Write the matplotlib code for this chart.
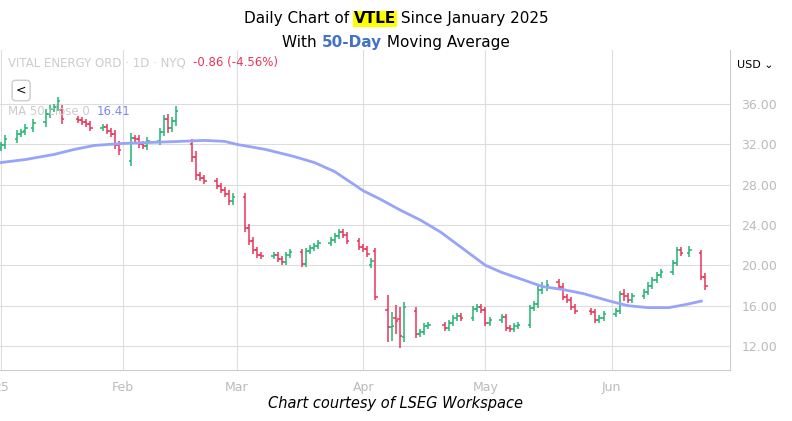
import matplotlib
matplotlib.use("Agg")
import matplotlib.pyplot as plt
import matplotlib.dates as mdates
import pandas as pd

# ---- data ----
closes = [31.9,32.5,33.0,33.2,33.6,34.1,35.0,35.5,35.7,36.3,
          34.5,34.4,34.2,34.0,33.6,33.7,33.3,33.0,31.9,31.4,
          32.6,32.5,32.0,31.8,32.3,33.2,34.5,33.6,34.3,35.3,
          30.8,29.0,28.7,28.4,27.9,27.5,27.1,26.4,26.8,
          23.7,22.4,21.5,21.0,20.9,21.0,20.6,20.3,21.0,21.3,20.1,21.4,21.7,21.9,22.2,22.5,22.9,23.3,23.0,22.4,21.8,
          21.6,21.1,20.4,16.9,13.9,14.0,14.5,13.0,15.9,13.2,13.4,14.0,14.1,13.8,14.3,14.8,15.0,14.8,15.7,15.9,15.6,
          14.3,14.6,14.9,13.8,13.7,14.0,14.1,15.8,16.2,17.6,17.9,18.1,17.9,16.9,16.6,15.9,15.5,15.4,14.6,14.8,15.2,
          15.5,17.2,17.0,16.6,17.0,17.4,18.0,18.5,19.0,19.3,20.2,21.5,21.2,21.5,18.8,18.0]
opens = [31.6,31.9,32.5,33.0,33.3,33.6,34.2,35.0,35.5,35.7,
         35.4,34.5,34.4,34.2,34.0,33.6,33.7,33.3,33.0,31.9,
         30.4,32.6,32.5,32.0,31.8,32.3,33.2,34.5,33.6,34.3,
         32.0,30.8,29.0,28.7,28.4,27.9,27.5,27.1,26.4,
         26.8,23.7,22.4,21.5,21.0,20.9,21.0,20.6,20.3,21.0,21.3,20.1,21.4,21.7,21.9,22.2,22.5,22.9,23.3,23.0,22.4,
         21.8,21.6,20.0,21.4,15.6,13.9,14.8,14.7,12.9,15.5,13.2,13.4,14.0,14.1,13.8,14.3,14.8,15.0,14.8,15.7,15.9,
         15.6,14.3,14.6,14.9,13.8,13.7,14.0,14.1,15.8,16.2,17.6,17.9,18.3,17.9,16.9,16.6,15.9,15.5,15.4,14.6,14.8,
         15.2,15.5,17.2,17.0,16.6,17.0,17.4,18.0,18.5,19.0,19.3,20.2,21.5,21.2,21.2,18.8]
spread = [0.3,0.4,0.4,0.3,0.4,0.4,0.5,0.4,0.3,0.4,
          0.5,0.3,0.3,0.3,0.3,0.3,0.3,0.3,0.4,0.4,
          0.5,0.3,0.4,0.3,0.4,0.4,0.4,0.5,0.4,0.5,
          0.5,0.5,0.3,0.3,0.3,0.3,0.3,0.4,0.4,
          0.4,0.4,0.4,0.3,0.3,0.3,0.3,0.3,0.3,0.3,0.3,0.3,0.3,0.3,0.3,0.3,0.3,0.3,0.3,0.3,0.3,
          0.3,0.3,0.3,0.3,1.5,1.4,1.3,1.2,0.5,0.4,0.3,0.3,0.3,0.3,0.3,0.3,0.3,0.3,0.3,0.3,0.3,
          0.3,0.3,0.3,0.3,0.3,0.3,0.3,0.3,0.3,0.4,0.4,0.4,0.3,0.3,0.3,0.3,0.3,0.3,0.3,0.3,0.3,
          0.3,0.3,0.5,0.3,0.3,0.3,0.3,0.3,0.3,0.3,0.3,0.3,0.3,0.4,0.3,0.4]
ma_dates = ["2024-12-31","2025-01-08","2025-01-15","2025-01-20","2025-01-25","2025-02-01","2025-02-08",
            "2025-02-15","2025-02-21","2025-02-26","2025-03-01","2025-03-08","2025-03-15","2025-03-20",
            "2025-03-25","2025-04-01","2025-04-05","2025-04-10","2025-04-15","2025-04-20","2025-04-25",
            "2025-05-01","2025-05-05","2025-05-10","2025-05-15","2025-05-20","2025-05-25","2025-06-01",
            "2025-06-05","2025-06-10","2025-06-15","2025-06-19","2025-06-23"]
ma_vals = [30.1,30.5,31.0,31.5,31.9,32.1,32.2,32.3,32.4,32.3,32.0,31.5,30.8,30.2,
           29.3,27.4,26.6,25.5,24.5,23.3,21.8,20.0,19.3,18.6,17.9,17.6,17.2,16.4,
           16.0,15.8,15.8,16.1,16.45]
holidays = ["2025-01-09","2025-01-20","2025-02-17","2025-04-18","2025-05-26","2025-06-19"]
yticks = [12,16,20,24,28,32,36]
month_labels = ["25","Feb","Mar","Apr","May","Jun"]

days = pd.bdate_range("2025-01-02","2025-07-15")
days = days[~days.isin(pd.to_datetime(holidays))][:len(closes)]

fig = plt.figure(figsize=(7.92,4.21), dpi=100)
ax = fig.add_axes([0.0, 0.121, 0.922, 0.76])
up, dn = "#22b573", "#e8345a"
x = mdates.date2num(days)
for xi,o,c,s in zip(x,opens,closes,spread):
    col = up if c >= o else dn
    hi = max(o,c)+s; lo = min(o,c)-s
    ax.vlines(xi, lo, hi, color=col, lw=1.1)
    ax.hlines(o, xi-0.6, xi, color=col, lw=1.1)
    ax.hlines(c, xi, xi+0.6, color=col, lw=1.1)
ax.plot(pd.to_datetime(ma_dates), ma_vals, color="#98a4f7", lw=2)

feb1 = mdates.date2num(pd.Timestamp("2025-02-01"))
ax.set_xlim(feb1-30.2, feb1+149.1)
ax.set_ylim(9.61, 41.36)
ax.yaxis.tick_right()
ax.set_yticks(yticks)
ax.set_yticklabels([f"{v:.2f}" for v in yticks], color="#bbbbbb", fontsize=9)
mt = pd.to_datetime(["2025-01-02","2025-02-01","2025-03-01","2025-04-01","2025-05-01","2025-06-01"])
ax.set_xticks(mdates.date2num(mt))
ax.set_xticklabels(month_labels, color="#bbbbbb", fontsize=9)
ax.tick_params(length=0, pad=8)
ax.grid(True, color="#dddddd", lw=0.8)
for s in ["top","left"]:
    ax.spines[s].set_visible(False)
ax.spines["right"].set_color("#cccccc")
ax.spines["bottom"].set_color("#cccccc")

fig.canvas.draw()
r = fig.canvas.get_renderer()

def seq(parts, x0, y, center=False):
    arts = []
    xx = x0
    for txt, kw in parts:
        t = fig.text(xx, y, txt, ha="left", va="center", **kw)
        w = t.get_window_extent(r).width / fig.bbox.width
        arts.append((t, w))
        xx += w
    if center:
        total = xx - x0
        shift = x0 - total / 2 - x0
        for t, w in arts:
            t.set_x(t.get_position()[0] + shift)

seq([("Daily Chart of ", dict(fontsize=11)),
     ("VTLE", dict(fontsize=11, weight="bold", bbox=dict(fc="yellow", ec="none", pad=0.5))),
     (" Since January 2025", dict(fontsize=11))], 0.5, 0.955, center=True)
seq([("With ", dict(fontsize=11)),
     ("50-Day", dict(fontsize=11, weight="bold", color="#4472c4")),
     (" Moving Average", dict(fontsize=11))], 0.5, 0.9, center=True)

seq([("VITAL ENERGY ORD · 1D · NYQ  ", dict(color="#cccccc", fontsize=8.5)),
     ("-0.86 (-4.56%)", dict(color="#e8345a", fontsize=8.5))], 0.01, 0.851)
seq([("MA 50 close 0  ", dict(color="#cccccc", fontsize=8.5)),
     ("16.41", dict(color="#7b86f0", fontsize=8.5))], 0.01, 0.735)
fig.text(0.02, 0.785, "<", fontsize=9, va="center",
         bbox=dict(boxstyle="round,pad=0.3", fc="white", ec="#cccccc"))
fig.text(0.93, 0.845, "USD ⌄", fontsize=8, va="center")
fig.text(0.5, 0.03, "Chart courtesy of LSEG Workspace", ha="center", fontsize=10.5, style="italic")
fig.savefig("out.png", dpi=100)
